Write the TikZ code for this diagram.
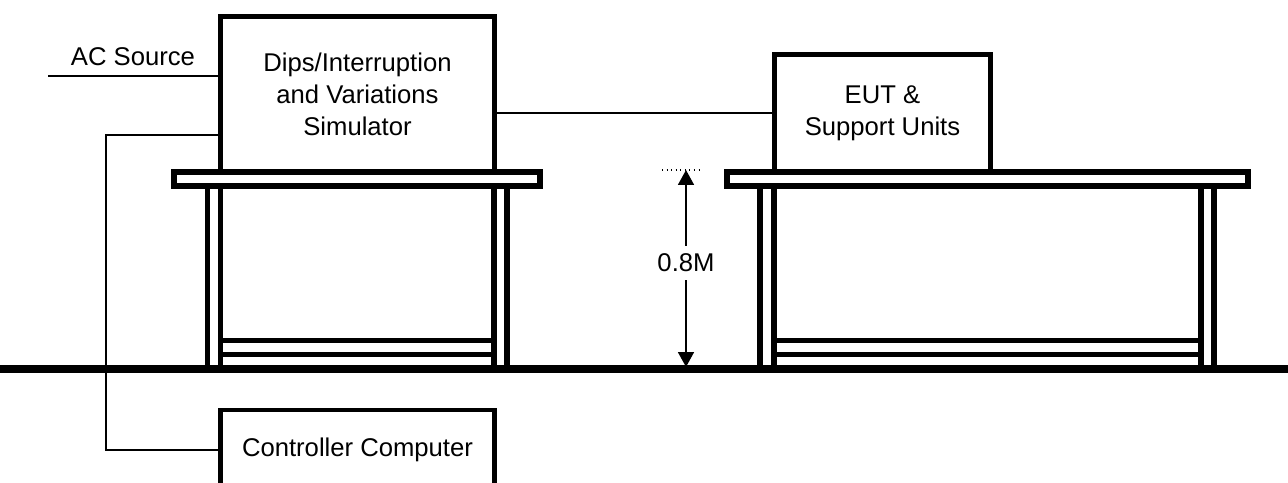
\documentclass[tikz,border=0pt]{standalone}
\usepackage{fontspec}
\setmainfont{Liberation Sans}
\usetikzlibrary{arrows.meta,positioning}

\begin{document}
\begin{tikzpicture}[x=0.02cm, y=-0.02cm, >={Triangle[length=8.5pt,width=9pt]}]
		\tikzstyle{unit} = [draw, line width=2.8pt, inner sep=0pt, align=center, font=\fontsize{14.6}{18.4}\selectfont]
		\tikzstyle{tag} = [inner sep=4.5pt, font=\fontsize{14.6}{18.4}\selectfont]
		\tikzstyle{wire} = [line width=1.2pt]
		\tikzstyle{board} = [draw, fill=white, line width=3.3pt]
		\tikzstyle{leg} = [line width=3.1pt]

		\useasboundingbox (0,0) rectangle (1288,483);

		% floor
		\draw[line width=4.5pt] (0,369) -- (1288,369);

		% equipment and wiring
		\path[wire]
		node[unit, minimum width=5.48cm, minimum height=3.11cm] (sim) at (357.5,94.25) {Dips/Interruption\\and Variations\\Simulator}
		node[unit, minimum width=4.32cm, minimum height=2.35cm] (eut) at (882.5,113.25) {EUT \&\\Support Units}
		node[unit, minimum width=5.48cm, minimum height=1.6cm] (ctrl) at (357.5,450) {Controller Computer}
		node[tag] (acsrc) at (133,57) {AC Source}
		coordinate (acend) at (48,76)
		coordinate (bend) at (106,135)

		(acend) edge (sim.west |- acend)
		(sim.east |- eut.west) edge (eut.west)
		;
		\draw[wire] (sim.west |- bend) -- (bend) -- (bend |- ctrl.west) -- (ctrl.west);

		% tables
		\foreach \x in {207.5,220.5,494,507,760,774,1201,1214}
			\draw[leg] (\x,186) -- (\x,367);
		\foreach \y in {340.5,354.5} {
			\draw[leg] (220.5,\y) -- (494,\y);
			\draw[leg] (774,\y) -- (1201,\y);
		}
		\draw[board] (174,172) rectangle (540,186);
		\draw[board] (727,172) rectangle (1248,186);

		% table height
		\node[tag] (hgt) at (686,263) {0.8M};
		\coordinate (dimtop) at (686,170);
		\coordinate (dimbot) at (686,367);
		\draw[line width=0.6pt, dotted] (662,170) -- (703,170);
		\path[wire, ->] (hgt) edge (dimtop) (hgt) edge (dimbot);
\end{tikzpicture}
\end{document}
